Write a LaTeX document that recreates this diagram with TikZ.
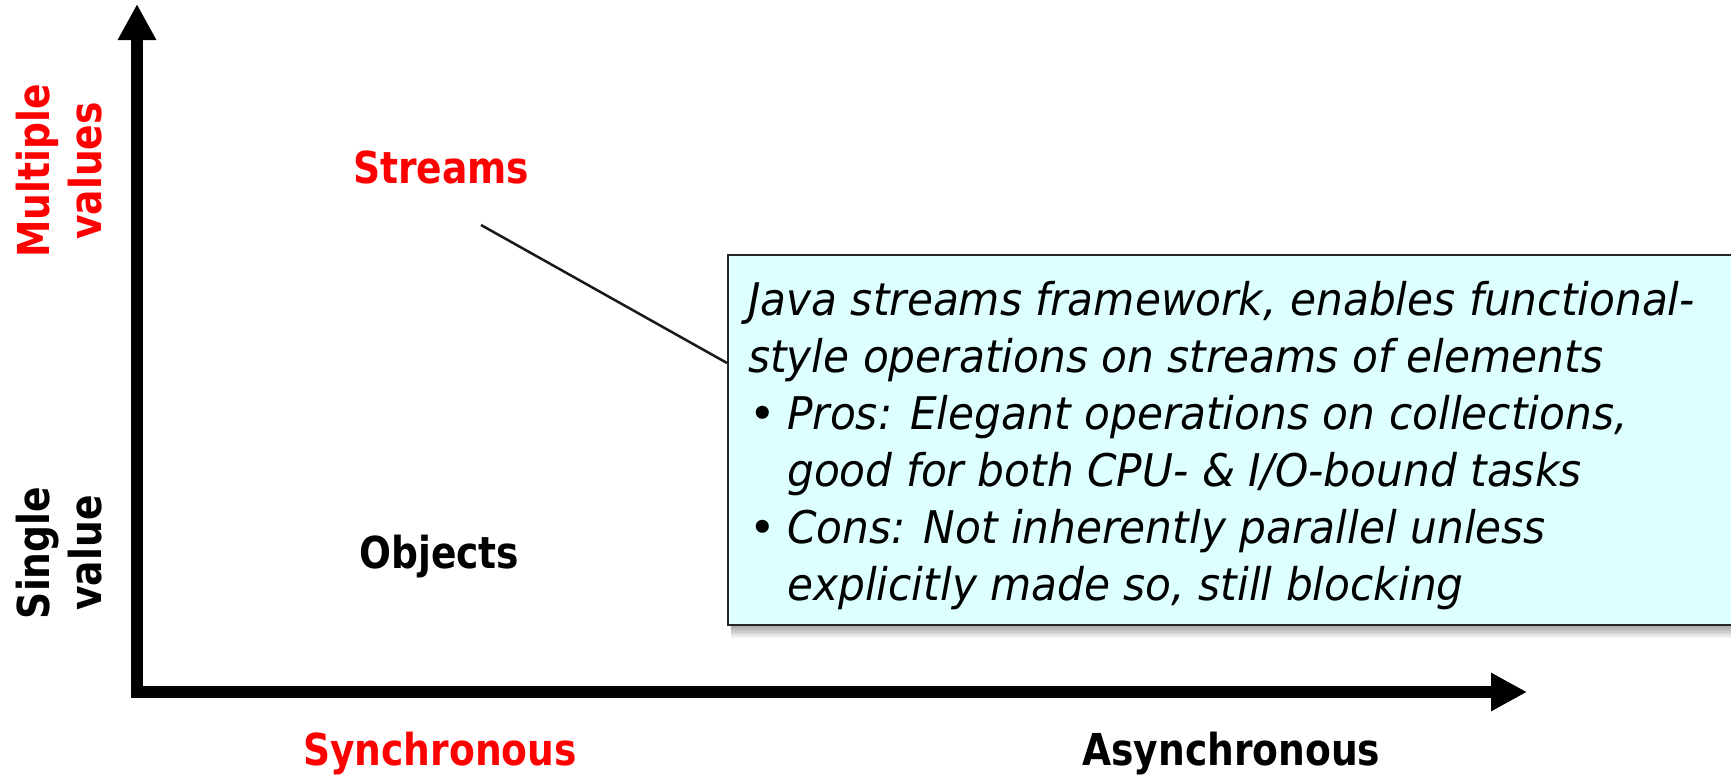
\documentclass[tikz,border=0pt]{standalone}
\usepackage{fontspec}
\usetikzlibrary{arrows.meta,calc}

% Faces: a compressed bold sans for the axis labels, a slanted sans for the note
\newfontfamily\labelface[FakeStretch=0.855]{DejaVu Sans}
\newfontfamily\noteface[FakeStretch=0.94]{DejaVu Sans}
\newfontfamily\bulletface{DejaVu Sans}

\definecolor{notefill}{RGB}{221,255,255}
\definecolor{hot}{RGB}{255,0,0}

\newcommand\notebullet{\makebox[39pt][l]{\bulletface\upshape\hspace{1pt}•}}

\tikzset{
  axisline/.style={line width=12pt, line join=miter,
    {Triangle[length=36pt,width=36pt]}-{Triangle[length=36pt,width=36pt]}},
  biglabel/.style={font=\labelface\bfseries\fontsize{44}{53}\selectfont,
    inner sep=0pt, anchor=base west},
  sidelabel/.style={font=\labelface\bfseries\fontsize{44}{52}\selectfont,
    inner sep=0pt, rotate=90, align=center},
  notebox/.style={draw=black!85, line width=2pt, fill=notefill,
    minimum width=1100pt, minimum height=370pt, anchor=north west, inner sep=0pt},
  notetext/.style={inner sep=0pt, anchor=base west},
  leader/.style={line width=2.5pt, black!90},
}

\begin{document}
\begin{tikzpicture}[x=1pt,y=-1pt]
  \useasboundingbox (0,0) rectangle (1731,774);

  % axes
  \coordinate (ytip) at (137,4);
  \coordinate (origin) at (137,692);
  \coordinate (xtip) at (1527,692);
  \draw[axisline] (ytip) -- (origin) -- (xtip);

  % quadrant labels
  \node[biglabel, text=hot] (streams) at (353,183) {Streams};
  \node[biglabel] (objects) at (359,568) {Objects};
  \node[biglabel, text=hot] (sync) at (303,765) {Synchronous};
  \node[biglabel] (async) at (1082,765) {Asynchronous};
  \node[sidelabel, text=hot] (multi) at (59,171) {Multiple\\values};
  \node[sidelabel] (single) at (59,553) {Single\\value};

  % soft shadow under the note
  \foreach \k in {1,...,8}
    \fill[black, opacity=0.055] (731,258) rectangle (1840,{624+1.7*\k});

  % note box with its leader line
  \node[notebox] (box) at (727,254) {};
  \coordinate (lead) at (481,225);
  \draw[leader] (lead) -- ($(box.north west)+(0,109)$);

  \node[notetext] (desc) at (748,315) {\parbox[t]{1000pt}{\raggedright
    \noteface\itshape\fontsize{45}{57}\selectfont
    Java streams framework, enables functional-\\
    style operations on streams of elements\\
    \notebullet Pros: Elegant operations on collections,\\
    \hspace*{39pt}good for both CPU- \& I/O-bound tasks\\
    \notebullet Cons: Not inherently parallel unless\\
    \hspace*{39pt}explicitly made so, still blocking}};
\end{tikzpicture}
\end{document}
